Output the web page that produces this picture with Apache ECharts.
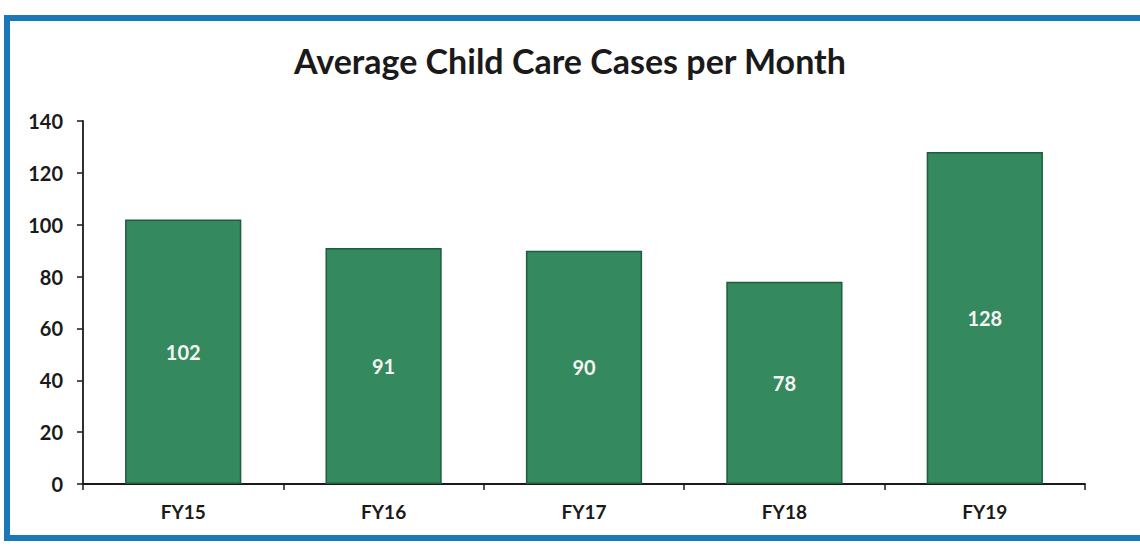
<!DOCTYPE html>
<html>
<head>
<meta charset="utf-8">
<script src="https://cdn.jsdelivr.net/npm/echarts@6/dist/echarts.min.js"></script>
<style>
  html, body { margin: 0; padding: 0; background: #ffffff; }
  #chart { width: 1140px; height: 546px; }
</style>
</head>
<body>
<div id="chart"></div>
<script>
var categories = ['FY15', 'FY16', 'FY17', 'FY18', 'FY19'];
var cases = [102, 91, 90, 78, 128];
var yTicks = [0, 20, 40, 60, 80, 100, 120, 140];

(function() {
  var font = 'Lato, "Open Sans", sans-serif';
  var chart = echarts.init(document.getElementById('chart'), null, { renderer: 'svg' });
  chart.setOption({
    animation: false,
    title: {
      text: 'Average Child Care Cases per Month',
      left: 'center',
      top: 38,
      textStyle: { fontFamily: font, fontSize: 34, fontWeight: 'bold', color: '#1a1a1a' }
    },
    graphic: [{
      type: 'rect',
      shape: { x: 7, y: 18, width: 1140, height: 520 },
      style: { fill: 'none', stroke: '#1b78b8', lineWidth: 6 },
      silent: true
    }],
    grid: { left: 83, right: 55, top: 121, bottom: 62 },
    xAxis: {
      type: 'category',
      data: categories,
      axisLine: { lineStyle: { color: '#1a1a1a', width: 1.8 } },
      axisTick: { show: true, length: 6, lineStyle: { color: '#1a1a1a', width: 1.5 } },
      axisLabel: { color: '#1a1a1a', fontFamily: font, fontSize: 19, fontWeight: 'bold', margin: 18 }
    },
    yAxis: {
      type: 'value',
      min: yTicks[0],
      max: yTicks[yTicks.length - 1],
      interval: yTicks[1] - yTicks[0],
      axisLine: { show: true, lineStyle: { color: '#1a1a1a', width: 1.8 } },
      axisTick: { show: true, length: 6, lineStyle: { color: '#1a1a1a', width: 1.5 } },
      axisLabel: { color: '#1a1a1a', fontFamily: font, fontSize: 20, fontWeight: 'bold', margin: 20 },
      splitLine: { show: false }
    },
    series: [{
      type: 'bar',
      data: cases,
      barWidth: '58%',
      itemStyle: { color: '#348a5e', borderColor: '#1e5e3c', borderWidth: 1.5 },
      label: {
        show: true,
        position: 'inside',
        color: '#f4f4f4',
        fontFamily: font,
        fontSize: 20,
        fontWeight: 'bold'
      }
    }]
  });
  window.addEventListener('resize', function() { chart.resize(); });
})();
</script>
</body>
</html>
